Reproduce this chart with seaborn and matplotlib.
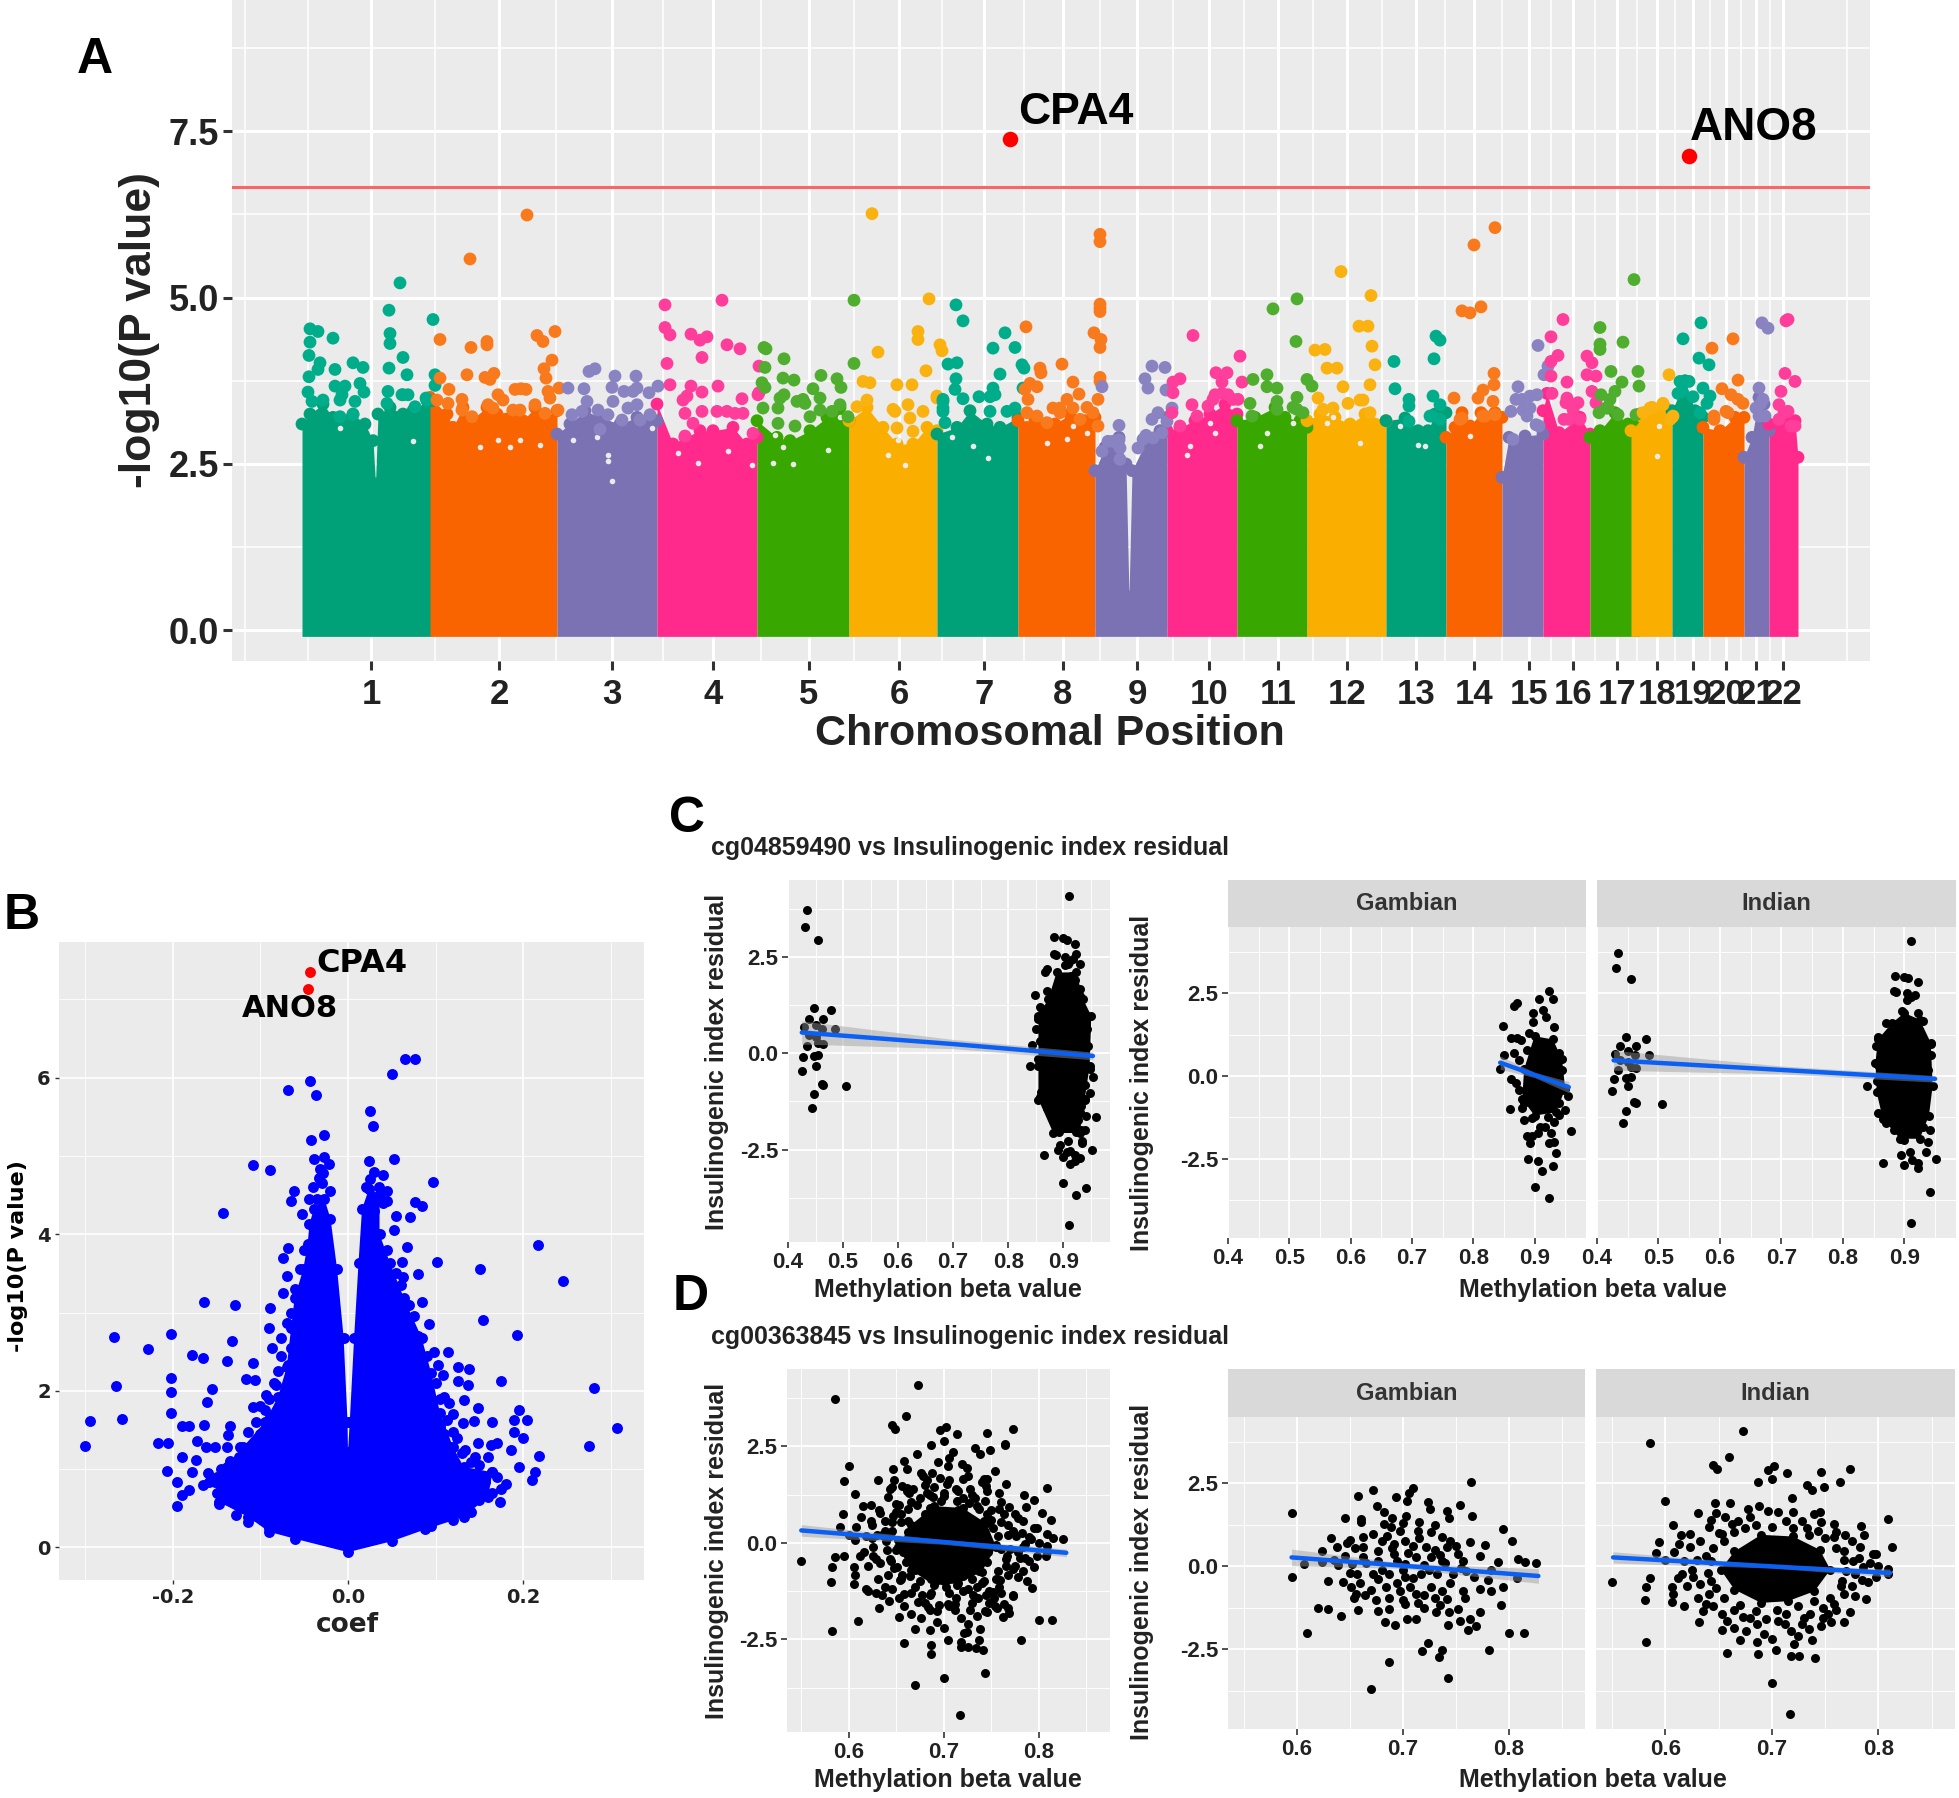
import pandas as pd
import seaborn as sns
from matplotlib import pyplot as plt

W, H = 1959, 1798

# ---- panel A: manhattan plot, position is in arbitrary genome units
chr_names = [str(i) for i in range(1, 23)]
chr_ticks = [71, 199, 312, 413, 509, 599, 684, 763, 837, 909, 978, 1047, 1116, 1174, 1229, 1273, 1317, 1357, 1393, 1426, 1456, 1483]
y_line = 6.66
hit_cpa4 = (710, 7.38)
hit_ano8 = (1389, 7.12)

chr1_top = [(2, 3.1), (10, 3.25), (23, 3.4), (33, 3.2), (47, 3.15), (53, 3.25), (65, 3.1), (73, 2.85), (75.5, 2.2), (78, 3.25), (90, 3.35), (103, 3.25), (113, 3.3), (127, 3.45), (132, 3.45)]
chr2_top = [(130, 3.5), (147, 3.25), (153, 3.05), (163, 3.35), (170, 3.15), (187, 3.35), (197, 3.25), (213, 3.3), (223, 3.15), (235, 3.35), (243, 3.2), (257, 3.3)]
chr3_top = [(257, 2.95), (270, 3.1), (285, 3.3), (300, 3.2), (320, 3.1), (337, 3.2), (357, 3.15)]
chr4_top = [(357, 3.4), (373, 2.8), (385, 2.9), (400, 3.0), (413, 3.0), (433, 3.05), (447, 2.8), (457, 2.9)]
chr5_top = [(457, 3.15), (477, 2.9), (490, 2.85), (510, 3.0), (527, 3.2), (540, 3.35), (549, 3.15)]
chr6_top = [(549, 3.15), (567, 3.35), (583, 3.05), (597, 2.8), (613, 2.8), (627, 3.05), (637, 3.0)]
chr7_top = [(637, 2.95), (657, 3.05), (670, 3.3), (687, 3.1), (700, 3.05), (718, 3.2)]
chr8_top = [(718, 3.15), (735, 3.15), (755, 3.1), (770, 3.25), (785, 3.15), (795, 3.2)]
chr9_top = [(795, 2.4), (805, 2.75), (819, 2.9), (826, 2.5), (829, 0.5), (832, 2.4), (845, 2.8), (860, 3.0), (867, 3.2)]
chr10_top = [(867, 3.0), (880, 3.05), (895, 3.15), (910, 3.25), (925, 3.4), (937, 3.25)]
chr11_top = [(937, 3.15), (955, 3.2), (975, 3.35), (985, 3.2), (1000, 3.15), (1007, 3.05)]
chr12_top = [(1007, 3.15), (1020, 3.25), (1035, 3.2), (1050, 3.1), (1065, 3.25), (1086, 3.15)]
chr13_top = [(1086, 3.15), (1105, 3.19), (1118, 3.0), (1128, 3.0), (1135, 3.25), (1146, 3.27)]
chr14_top = [(1146, 2.9), (1155, 3.05), (1162, 3.27), (1170, 3.07), (1181, 3.27), (1195, 3.27), (1202, 3.2)]
chr15_top = [(1202, 2.3), (1209, 2.9), (1225, 2.92), (1243, 2.95)]
chr16_top = [(1243, 3.3), (1247, 3.56), (1259, 2.97), (1280, 3.2), (1290, 2.95)]
chr17_top = [(1290, 2.9), (1300, 3.0), (1315, 3.27), (1328, 3.1), (1340, 3.25)]
chr18_top = [(1331, 3.0), (1343, 3.2), (1352, 3.35), (1365, 3.35), (1372, 3.2)]
chr19_top = [(1372, 3.3), (1385, 3.75), (1395, 3.3), (1403, 3.2)]
chr20_top = [(1403, 3.05), (1420, 3.0), (1435, 3.2), (1444, 3.2)]
chr21_top = [(1444, 2.6), (1452, 2.9), (1459, 3.5), (1464, 3.4), (1469, 3.0)]
chr22_top = [(1469, 3.1), (1485, 3.2), (1495, 3.15), (1498, 2.6)]

chr1_hits = [(10, 4.53), (18, 4.49), (10, 4.33), (33, 4.39), (9, 4.13), (20, 4.02), (18, 3.92), (9, 3.81), (35, 3.92), (53, 4.02), (63, 3.95), (35, 3.67), (45, 3.67), (60, 3.71), (64, 3.58), (8, 3.58), (42, 3.54),
             (100, 5.22), (89, 4.81), (133, 4.67), (90, 4.46), (90, 4.31), (103, 4.10), (89, 3.94), (107, 3.84), (135, 3.84), (88, 3.59), (102, 3.54), (135, 3.68), (126, 3.49),
             (12, 3.44), (23, 3.46), (40, 3.46), (55, 3.44), (40, 3.21), (53, 3.24), (103, 3.54), (108, 3.54), (127, 3.46), (115, 3.36), (87, 3.41)]
chr2_hits = [(170, 5.58), (227, 6.24), (140, 4.37), (171, 4.25), (187, 4.29), (187, 4.34), (237, 4.43), (243, 4.34), (255, 4.49), (252, 4.06), (244, 3.93), (246, 3.79), (167, 3.84), (140, 3.79), (185, 3.80), (194, 3.86), (190, 3.77), (149, 3.62), (215, 3.62), (221, 3.63), (226, 3.62), (198, 3.54), (248, 3.59), (259, 3.64), (162, 3.47),
             (137, 3.46), (148, 3.41), (162, 3.31), (172, 3.21), (188, 3.39), (203, 3.46), (193, 3.34), (213, 3.31), (220, 3.31), (235, 3.39), (245, 3.26), (258, 3.31), (250, 3.49)]
chr3_hits = [(268, 3.64), (284, 3.63), (289, 3.89), (295, 3.93), (315, 3.82), (336, 3.82), (312, 3.65), (324, 3.59), (337, 3.64), (349, 3.57), (358, 3.67),
             (313, 3.44), (328, 3.34), (337, 3.39), (350, 3.24), (287, 3.44), (282, 3.29), (298, 3.31), (308, 3.24), (322, 3.16), (272, 3.24), (300, 3.02), (340, 3.16), (333, 3.59)]
chr4_hits = [(365, 4.89), (365, 4.55), (370, 4.44), (391, 4.45), (400, 4.36), (407, 4.41), (422, 4.96), (427, 4.29), (440, 4.23), (402, 4.10), (367, 4.01), (370, 3.69), (391, 3.67), (402, 3.58), (418, 3.67), (459, 3.97), (459, 3.57), (387, 3.52), (442, 3.48),
             (402, 3.29), (417, 3.29), (427, 3.29), (435, 3.26), (443, 3.26), (385, 3.26), (393, 3.11), (383, 3.46), (458, 3.54), (453, 2.96), (385, 2.92)]
chr5_hits = [(464, 4.25), (466, 4.23), (465, 3.95), (484, 4.08), (483, 3.79), (494, 3.76), (521, 3.83), (537, 3.78), (541, 3.65), (513, 3.63), (554, 4.96), (554, 4.01), (462, 3.72), (465, 3.65), (484, 3.54), (503, 3.47), (520, 3.49),
             (463, 3.34), (478, 3.34), (480, 3.49), (497, 3.44), (505, 3.41), (520, 3.31), (510, 3.21), (495, 3.07), (478, 3.11), (540, 3.39), (548, 3.21), (532, 3.29)]
chr6_hits = [(572, 6.26), (629, 4.98), (618, 4.49), (618, 4.37), (578, 4.18), (640, 4.29), (642, 4.2), (626, 3.9), (563, 3.74), (570, 3.72), (597, 3.69), (612, 3.69), (637, 3.52), (593, 3.32), (608, 3.39), (623, 3.29), (610, 3.19),
             (557, 3.36), (567, 3.46), (595, 3.29), (597, 3.04), (613, 2.99), (637, 3.49)]
chr7_hits = [(656, 4.89), (663, 4.65), (705, 4.47), (715, 4.25), (693, 4.24), (648, 4.0), (657, 4.02), (656, 3.78), (700, 3.85), (722, 3.99), (724, 3.94), (643, 3.47), (643, 3.34), (655, 3.62), (663, 3.48), (679, 3.51), (693, 3.64), (695, 3.54), (707, 3.29), (715, 3.34), (723, 3.64), (645, 3.12),
             (690, 3.51), (690, 3.29), (643, 3.44), (643, 3.29)]
chr8_hits = [(800, 5.95), (800, 5.84), (800, 4.9), (800, 4.84), (800, 4.79), (726, 4.56), (794, 4.47), (801, 4.37), (800, 4.25), (762, 4.0), (740, 3.94), (741, 3.87), (800, 3.8), (773, 3.73), (730, 3.71), (737, 3.66), (800, 3.74), (725, 3.62), (779, 3.55), (767, 3.47), (798, 3.47), (753, 3.34), (787, 3.35), (728, 3.47), (760, 3.27),
             (727, 3.27), (737, 3.22), (747, 3.12), (760, 3.34), (773, 3.34), (780, 3.17), (793, 3.27), (798, 3.07)]
chr9_hits = [(802, 3.66), (819, 3.08), (808, 2.84), (819, 2.86), (802, 2.69), (820, 2.74), (838, 2.74), (846, 2.93), (852, 3.17), (858, 3.27), (852, 3.97), (865, 3.95), (845, 3.78), (848, 3.64), (866, 3.61), (872, 3.34), (867, 3.14),
             (813, 2.84), (820, 2.57), (843, 2.87), (853, 2.89), (862, 2.97)]
chr10_hits = [(893, 4.43), (940, 4.12), (880, 3.78), (873, 3.73), (873, 3.57), (916, 3.87), (927, 3.87), (922, 3.73), (942, 3.73), (892, 3.39), (915, 3.54), (928, 3.54), (938, 3.47), (908, 3.37), (897, 3.22),
              (872, 3.27), (880, 3.07), (913, 3.47), (922, 3.56), (933, 3.47)]
chr11_hits = [(997, 4.98), (973, 4.83), (996, 4.34), (953, 3.77), (967, 3.84), (1007, 3.77), (1012, 3.67), (967, 3.66), (977, 3.64), (950, 3.41), (997, 3.5), (993, 3.35), (977, 3.44),
              (952, 3.22), (977, 3.32), (997, 3.32), (1003, 3.27)]
chr12_hits = [(1041, 5.39), (1071, 5.03), (1059, 4.57), (1068, 4.57), (1072, 4.27), (1015, 4.21), (1025, 4.22), (1027, 3.94), (1037, 3.94), (1075, 3.99), (1043, 3.66), (1070, 3.69), (1018, 3.49), (1048, 3.41), (1063, 3.46),
              (1023, 3.32), (1033, 3.34), (1060, 3.46), (1070, 3.27)]
chr13_hits = [(1094, 4.04), (1095, 3.63), (1109, 3.47), (1109, 3.37), (1136, 4.42), (1140, 4.36), (1134, 4.08), (1133, 3.52), (1140, 3.39), (1130, 3.22), (1109, 3.14), (1132, 3.22), (1140, 3.17)]
chr14_hits = [(1195, 6.05), (1174, 5.79), (1162, 4.80), (1170, 4.77), (1181, 4.86), (1194, 3.86), (1194, 3.69), (1183, 3.61), (1154, 3.49), (1178, 3.49), (1193, 3.44), (1162, 3.19), (1185, 3.22), (1160, 3.17), (1183, 3.22), (1195, 3.24)]
chr15_hits = [(1218, 3.66), (1238, 4.28), (1244, 3.84), (1248, 3.97), (1211, 3.29), (1222, 3.47), (1230, 3.52), (1237, 3.54), (1227, 3.22), (1236, 3.09), (1216, 3.47), (1230, 3.34), (1223, 3.31), (1239, 3.07), (1213, 2.87)]
chr16_hits = [(1263, 4.67), (1251, 4.41), (1258, 4.13), (1251, 4.04), (1251, 3.82), (1267, 3.73), (1287, 4.12), (1292, 4.02), (1287, 3.84), (1296, 3.82), (1292, 3.59), (1267, 3.49), (1296, 3.42), (1278, 3.42), (1264, 3.17), (1266, 3.42), (1273, 3.32), (1280, 3.17), (1269, 3.17), (1252, 3.56)]
chr17_hits = [(1300, 4.55), (1334, 5.27), (1300, 4.3), (1300, 4.22), (1323, 4.33), (1311, 3.89), (1338, 3.89), (1339, 3.67), (1322, 3.73), (1315, 3.59), (1301, 3.54), (1310, 3.47), (1299, 3.27), (1306, 3.34), (1308, 3.34), (1318, 3.24), (1336, 3.24)]
chr18_hits = [(1369, 3.84), (1363, 3.39), (1352, 3.34), (1343, 3.27), (1370, 3.17), (1350, 3.34), (1363, 3.41), (1373, 3.22)]
chr19_hits = [(1401, 4.62), (1383, 4.38), (1399, 4.09), (1409, 3.99), (1380, 3.74), (1389, 3.74), (1403, 3.64), (1410, 3.52), (1382, 3.59), (1378, 3.56), (1393, 3.51), (1407, 3.41), (1400, 3.27)]
chr20_hits = [(1412, 4.24), (1433, 4.38), (1438, 3.76), (1422, 3.63), (1438, 3.47), (1426, 3.29), (1414, 3.22), (1431, 3.54), (1414, 3.17), (1428, 3.27), (1443, 3.41)]
chr21_hits = [(1462, 4.62), (1468, 4.54), (1459, 3.64), (1463, 3.47), (1459, 3.22), (1456, 3.34), (1461, 3.41), (1465, 3.22)]
chr22_hits = [(1486, 4.65), (1488, 4.67), (1485, 3.86), (1495, 3.74), (1481, 3.59), (1479, 3.39), (1488, 3.29), (1491, 3.07), (1479, 3.17), (1495, 3.07), (1484, 3.27)]

# small holes left between the dots inside the dense part
mass_holes = [(40, 3.04), (113, 2.84), (180, 2.76), (198, 2.86), (220, 2.86), (210, 2.76), (240, 2.79), (308, 2.54), (308, 2.64), (273, 2.86), (297, 2.91), (352, 3.04), (312, 2.24),
              (378, 2.66), (398, 2.51), (428, 2.69), (452, 2.49), (473, 2.51), (483, 2.76), (493, 2.5), (528, 2.71), (475, 2.94), (540, 3.2), (588, 2.64), (598, 2.86), (605, 2.49),
              (673, 2.77), (688, 2.59), (652, 2.91), (767, 2.87), (747, 2.82), (787, 2.97), (773, 3.07), (890, 2.77), (915, 2.97), (910, 3.12), (887, 2.64), (960, 2.77), (967, 2.97),
              (993, 3.11), (1027, 3.12), (1060, 2.82), (1033, 3.2), (1118, 2.79), (1125, 2.77), (1100, 3.07), (1170, 2.92), (1359, 3.07), (1357, 2.62)]

chr_tops = [chr1_top, chr2_top, chr3_top, chr4_top, chr5_top, chr6_top, chr7_top, chr8_top, chr9_top, chr10_top, chr11_top,
            chr12_top, chr13_top, chr14_top, chr15_top, chr16_top, chr17_top, chr18_top, chr19_top, chr20_top, chr21_top, chr22_top]
chr_hits = [chr1_hits, chr2_hits, chr3_hits, chr4_hits, chr5_hits, chr6_hits, chr7_hits, chr8_hits, chr9_hits, chr10_hits, chr11_hits,
            chr12_hits, chr13_hits, chr14_hits, chr15_hits, chr16_hits, chr17_hits, chr18_hits, chr19_hits, chr20_hits, chr21_hits, chr22_hits]

mass_colors = ['#00A078', '#FA6400', '#7B72B4', '#FF2A8C', '#38A800', '#F9AE00']
dot_colors = ['#00AD8B', '#F97A1D', '#8A83C2', '#FF3D9B', '#4FAE2E', '#F9B20F']

# ---- panel B: volcano plot
volcano_edge = [(0, -0.06), (-0.06, 0.11), (-0.09, 0.2), (-0.114, 0.39), (-0.147, 0.58), (-0.152, 0.84), (-0.138, 1.03), (-0.12, 1.28), (-0.095, 1.6), (-0.08, 1.92),
                (-0.07, 2.3), (-0.065, 2.8), (-0.061, 3.18), (-0.051, 3.56), (-0.046, 3.88), (-0.044, 4.13), (-0.039, 4.32), (-0.027, 4.45), (-0.02, 4.2), (-0.0125, 3.56),
                (-0.005, 2.68), (-0.0005, 1.6), (0, 1.22), (0.002, 1.6), (0.007, 2.68), (0.012, 3.63), (0.016, 4.32), (0.024, 4.58), (0.036, 4.51), (0.036, 4.0), (0.048, 3.63),
                (0.064, 3.18), (0.084, 2.68), (0.095, 2.23), (0.105, 1.72), (0.12, 1.28), (0.132, 1.03), (0.165, 0.96), (0.16, 0.65), (0.132, 0.39), (0.088, 0.23), (0.05, 0.08)]
volcano_pts = [(0.076, 6.24), (0.065, 6.23), (0.05, 6.04), (-0.043, 5.95), (-0.068, 5.84), (-0.036, 5.78), (0.025, 5.57), (0.028, 5.38), (-0.027, 5.26), (-0.042, 5.2), (0.052, 4.96), (0.024, 4.93),
               (-0.108, 4.88), (-0.089, 4.82), (-0.027, 4.99), (-0.039, 4.96), (-0.032, 4.83), (0.097, 4.66), (-0.062, 4.55), (0.04, 4.75), (-0.065, 4.42), (-0.053, 4.26), (-0.143, 4.27), (0.076, 4.41),
               (0.084, 4.36), (0.071, 4.22), (0.045, 4.42), (0.055, 4.23), (0.052, 4.05), (0.067, 3.84), (0.102, 3.65), (0.217, 3.86), (0.246, 3.4), (0.151, 3.55), (0.062, 3.65), (0.08, 3.49), (0.063, 3.45),
               (-0.068, 3.82), (-0.074, 3.7), (-0.07, 3.47), (-0.074, 3.25), (-0.089, 3.06), (-0.129, 3.09), (-0.164, 3.13), (0.085, 3.13), (0.154, 2.9), (0.093, 2.85), (-0.09, 2.8), (-0.202, 2.73), (-0.267, 2.69),
               (-0.133, 2.64), (0.193, 2.71), (-0.228, 2.53), (-0.087, 2.55), (-0.178, 2.46), (-0.166, 2.42), (-0.138, 2.38), (-0.109, 2.35), (0.098, 2.5), (0.114, 2.5), (0.126, 2.31), (0.138, 2.28), (-0.202, 2.16),
               (-0.265, 2.06), (-0.202, 1.98), (-0.155, 2.02), (-0.116, 2.15), (-0.106, 2.14), (0.175, 2.13), (0.281, 2.04), (-0.161, 1.86), (-0.202, 1.72), (-0.295, 1.62), (-0.258, 1.64), (-0.19, 1.55), (-0.182, 1.55),
               (-0.164, 1.56), (-0.135, 1.55), (0.307, 1.53), (-0.3, 1.29), (0.275, 1.3), (-0.217, 1.33), (-0.205, 1.34), (-0.172, 1.36), (-0.207, 0.98), (-0.19, 1.15), (-0.137, 1.43), (-0.114, 1.47), (-0.109, 1.79),
               (-0.095, 1.76), (0.195, 1.76), (0.204, 1.63), (0.19, 1.63), (0.19, 1.48), (0.2, 1.4), (0.218, 1.17), (0.186, 1.25), (0.195, 1.03), (0.214, 0.96), (0.21, 0.86), (0.18, 0.81), (0.174, 0.58), (0.165, 1.6),
               (0.148, 1.78), (0.144, 1.61), (0.131, 1.59), (0.132, 1.88), (0.126, 2.12), (0.137, 2.07), (0.108, 2.2), (0.103, 2.33), (0.11, 1.92), (0.093, 1.76), (0.113, 1.63), (0.17, 1.34), (0.163, 1.31), (0.148, 1.34),
               (0.134, 1.25), (0.12, 1.47), (0.117, 1.28), (0.141, 1.09), (0.165, 0.96), (0.156, 0.84), (-0.195, 0.53), (-0.19, 0.67), (-0.195, 0.84), (-0.181, 0.74), (-0.174, 1.12), (-0.162, 1.28), (-0.152, 1.28),
               (-0.159, 0.84), (-0.178, 0.96), (-0.147, 0.55), (-0.138, 1.28), (-0.123, 1.28), (-0.114, 0.33), (-0.128, 0.42), (-0.109, 1.09), (-0.104, 1.31), (-0.089, 1.66), (-0.082, 2.07), (-0.094, 1.95), (-0.068, 2.33),
               (-0.07, 2.87), (-0.076, 2.68),
               (-0.1, 1.8), (-0.105, 1.6), (-0.1, 1.45), (-0.09, 1.9), (-0.085, 2.1), (-0.08, 2.25), (-0.076, 2.45), (-0.095, 1.3), (-0.115, 1.15), (-0.125, 1.15), (-0.135, 1.1), (-0.145, 1.0), (-0.15, 0.9), (-0.16, 0.95),
               (-0.165, 0.8), (-0.15, 0.7), (-0.13, 0.65), (-0.12, 0.5), (-0.105, 0.4), (-0.09, 0.25), (0.1, 2.1), (0.105, 1.9), (0.115, 1.85), (0.12, 1.7), (0.105, 1.55), (0.11, 1.45), (0.125, 1.4), (0.13, 1.2), (0.145, 1.15),
               (0.15, 1.05), (0.16, 1.15), (0.17, 0.9), (0.175, 0.75), (0.165, 0.7), (0.15, 0.6), (0.14, 0.45), (0.12, 0.35), (0.095, 0.27), (0.09, 2.45), (0.08, 2.7), (0.075, 2.95), (0.07, 3.1), (0.06, 3.35), (0.055, 3.5),
               (0.045, 3.8), (-0.04, 4.6), (-0.03, 4.65), (-0.02, 4.55), (-0.035, 4.45), (-0.045, 4.45), (-0.028, 4.78), (-0.033, 4.72), (-0.022, 4.9), (0.025, 4.7), (0.035, 4.6), (0.045, 4.55), (0.03, 4.8), (0.02, 4.6),
               (0.04, 4.4), (0.03, 4.3), (-0.06, 3.3), (-0.065, 3.0), (-0.065, 2.55), (-0.055, 3.55), (-0.05, 3.8)]
volcano_cpa4 = (-0.043, 7.35)
volcano_ano8 = (-0.046, 7.13)

# ---- panel C: cg04859490
c_gambian_pts = [(0.848, 1.52), (0.871, 2.2), (0.867, 2.1), (0.908, 2.33), (0.923, 2.57), (0.93, 2.33), (0.897, 1.9), (0.914, 2.0), (0.918, 1.79), (0.931, 1.49), (0.897, 1.64), (0.871, 1.14), (0.867, 0.69), (0.844, 0.21),
                 (0.85, 0.64), (0.861, -0.1), (0.86, -1.0), (0.94, 0.69), (0.945, 0.18), (0.954, -0.62), (0.96, -1.66), (0.949, -1.03), (0.887, -1.81), (0.893, -2.04), (0.89, -2.5), (0.906, -2.56), (0.93, -2.72),
                 (0.913, -2.87), (0.935, -2.34), (0.9, -3.37), (0.923, -3.69), (0.923, -2.04), (0.932, -1.99), (0.906, -1.73), (0.927, -1.73), (0.932, -1.38), (0.883, -1.33), (0.879, -0.98), (0.874, -0.42), (0.94, -0.83),
                 (0.878, 1.09), (0.891, 1.29), (0.887, 0.79), (0.861, 1.14), (0.874, 0.48), (0.87, -0.22), (0.883, -0.83), (0.896, -1.28), (0.909, -1.53), (0.922, -1.23), (0.94, -1.18), (0.948, -0.42), (0.896, -1.83), (0.917, -1.53)]
c_gambian_core = [(0.9, 1.2), (0.93, 1.1), (0.945, 0.5), (0.95, -0.4), (0.935, -1.1), (0.9, -1.2), (0.88, -0.7), (0.883, 0.2)]
c_indian_pts = [(0.434, 3.72), (0.431, 3.27), (0.455, 2.94), (0.447, 1.17), (0.479, 1.12), (0.438, 0.89), (0.464, 0.89), (0.429, 0.67), (0.451, 0.74), (0.462, 0.64), (0.485, 0.64), (0.434, 0.18), (0.464, 0.23), (0.427, -0.1),
                (0.447, -0.07), (0.455, -0.04), (0.451, -0.32), (0.425, -0.47), (0.461, -0.8), (0.464, -0.83), (0.505, -0.85), (0.447, -1.05), (0.443, -1.41), (0.438, 0.48), (0.451, 0.43), (0.455, 0.28),
                (0.911, 4.09), (0.884, 3.03), (0.9, 3.0), (0.906, 2.95), (0.922, 2.83), (0.887, 2.55), (0.883, 2.58), (0.904, 2.5), (0.917, 2.45), (0.904, 2.3), (0.911, 2.38), (0.87, 1.61), (0.93, 1.67), (0.854, 0.89),
                (0.857, 1.19), (0.943, 0.97), (0.857, 0.33), (0.84, -0.32), (0.855, -0.15), (0.943, 0.64), (0.939, 0.18), (0.857, -1.13), (0.865, -1.18), (0.866, -2.64), (0.952, -2.51), (0.941, -3.5), (0.911, -4.46),
                (0.941, -1.63), (0.939, -1.99), (0.935, -2.29), (0.922, -2.64), (0.9, -2.69), (0.894, -2.39), (0.909, -2.29), (0.922, -2.79), (0.913, -2.54), (0.9, -1.94), (0.883, -1.63), (0.93, -1.53), (0.87, -1.43),
                (0.896, 1.95), (0.922, 1.9)]
c_indian_core = [(0.857, 1.1), (0.88, 1.6), (0.9, 1.9), (0.925, 1.7), (0.943, 1.0), (0.946, -0.3), (0.94, -1.2), (0.925, -1.9), (0.893, -1.9), (0.865, -1.3), (0.855, -0.5), (0.853, 0.4)]
c_all_core = [(0.888, 2.1), (0.924, 2.1), (0.936, 1.41), (0.951, 0.97), (0.948, -0.33), (0.939, -1.2), (0.93, -2.07), (0.882, -2.07), (0.855, -1.2), (0.855, -0.33), (0.855, 0.97), (0.873, 1.41)]

# fit lines: x, fit, half width of the grey band
c_all_fit = ([0.425, 0.7, 0.954], [0.54, 0.24, -0.07], [0.3, 0.12, 0.1])
c_gambian_fit = ([0.844, 0.9, 0.956], [0.4, 0.03, -0.34], [0.2, 0.08, 0.17])
c_indian_fit = ([0.427, 0.7, 0.95], [0.47, 0.18, -0.09], [0.3, 0.12, 0.1])

# ---- panel D: cg00363845
d_gambian_pts = [(0.595, 1.6), (0.595, -0.33), (0.607, 0.07), (0.61, -2.02), (0.62, -1.24), (0.629, -1.29), (0.629, -0.43), (0.632, 0.85), (0.624, 0.47), (0.624, 0.12), (0.638, 0.57), (0.642, -1.51), (0.645, 1.45), (0.647, 0.69),
                 (0.639, 0.05), (0.644, -0.48), (0.651, -0.63), (0.654, -0.96), (0.658, 2.13), (0.661, 1.43), (0.661, 1.33), (0.658, -1.32), (0.672, 2.31), (0.676, 1.81), (0.682, 1.63), (0.677, -1.34), (0.687, -1.29),
                 (0.683, -1.67), (0.693, -1.77), (0.694, 2.08), (0.706, 2.2), (0.71, 2.35), (0.704, 1.98), (0.703, 1.53), (0.724, 1.93), (0.726, 1.73), (0.742, 1.66), (0.744, 1.46), (0.754, 1.86), (0.764, 2.55), (0.765, 1.53),
                 (0.763, 0.74), (0.778, 0.64), (0.795, 1.12), (0.803, 0.76), (0.809, 0.22), (0.815, 0.12), (0.826, 0.09), (0.79, 0.14), (0.773, 0.3), (0.783, -0.11), (0.808, -0.35), (0.773, -0.68), (0.783, -0.73), (0.795, -0.63),
                 (0.793, -1.17), (0.8, -2.01), (0.814, -2.01), (0.781, -2.51), (0.743, -3.37), (0.67, -3.69), (0.687, -2.87), (0.718, -2.56), (0.724, -2.31), (0.737, -2.53), (0.734, -2.73), (0.743, -1.76), (0.754, -1.64),
                 (0.763, -1.59), (0.762, -1.92), (0.769, -1.81), (0.773, -1.39), (0.731, -1.36), (0.744, -1.36), (0.752, -1.27), (0.704, -1.59), (0.712, -1.59), (0.757, -0.73), (0.759, -0.96), (0.742, -0.99), (0.767, -0.33),
                 (0.702, -1.14), (0.714, -1.09), (0.687, -0.94), (0.697, -0.73), (0.664, -0.87), (0.656, -0.84), (0.677, -0.38), (0.684, -0.63), (0.707, -0.63), (0.727, -0.63), (0.737, -0.73), (0.712, -0.84),
                 (0.662, 0.88), (0.672, 0.98), (0.682, 1.28), (0.689, 1.18), (0.697, 1.08), (0.702, 0.77), (0.714, 1.08), (0.727, 1.03), (0.737, 0.88), (0.742, 0.57), (0.722, 0.57), (0.712, 0.27), (0.727, 0.27), (0.737, 0.17),
                 (0.752, 0.37), (0.757, 0.17), (0.747, -0.23), (0.732, -0.23), (0.717, -0.23), (0.702, -0.33), (0.687, -0.23), (0.672, -0.23), (0.657, -0.23), (0.652, 0.07), (0.662, 0.27), (0.677, 0.17), (0.692, 0.37),
                 (0.702, 0.07), (0.662, 0.57), (0.677, 0.47), (0.692, 0.67),
                 (0.635, 0.2), (0.645, 0.3), (0.65, -0.2), (0.66, -0.5), (0.67, -0.7), (0.675, -1.0), (0.68, 0.75), (0.685, 0.9), (0.69, 0.55), (0.695, 0.15), (0.7, -0.1), (0.705, 0.4), (0.71, 0.6), (0.715, 0.85), (0.72, 0.05),
                 (0.725, -0.1), (0.73, 0.5), (0.735, 0.35), (0.74, 0.1), (0.745, 0.75), (0.75, 0.6), (0.755, -0.05), (0.76, -0.15), (0.745, -0.5), (0.73, -0.95), (0.72, -0.85), (0.71, -0.35), (0.695, -0.5), (0.68, -0.1),
                 (0.665, 0.1), (0.655, 0.55), (0.65, 0.8), (0.69, 1.45), (0.7, 1.3), (0.715, 1.35), (0.73, 1.25), (0.72, -1.25), (0.735, -1.15), (0.7, -1.0), (0.78, -0.4)]
d_indian_pts = [(0.55, -0.48), (0.586, 3.72), (0.673, 4.09), (0.66, 3.28), (0.645, 3.04), (0.649, 2.94), (0.696, 2.91), (0.702, 3.01), (0.714, 2.81), (0.746, 2.84), (0.773, 2.94), (0.687, 2.53), (0.7, 2.64), (0.733, 2.45),
                (0.738, 2.3), (0.749, 2.4), (0.764, 2.53), (0.719, 2.05), (0.6, 1.98), (0.647, 1.91), (0.661, 1.91), (0.631, 1.62), (0.648, 1.62), (0.607, 1.26), (0.594, 0.74), (0.591, 0.4), (0.586, -0.36), (0.582, -0.63),
                (0.581, -1.02), (0.582, -2.29), (0.606, -0.63), (0.607, -0.84), (0.606, -1.06), (0.618, -1.19), (0.635, -1.34), (0.632, -1.69), (0.658, -2.6), (0.653, -1.92), (0.67, -2.22), (0.686, -2.27), (0.687, -2.65),
                (0.704, -2.52), (0.721, -2.34), (0.718, -2.7), (0.726, -2.7), (0.741, -2.77), (0.738, -2.22), (0.7, -3.5), (0.717, -4.46), (0.746, -1.79), (0.756, -1.69), (0.768, -1.69), (0.773, -1.36), (0.788, -0.99),
                (0.778, -0.89), (0.79, -0.48), (0.798, -0.33), (0.809, -0.08), (0.809, -0.23), (0.813, 0.59), (0.809, 1.42), (0.795, 0.37), (0.798, 0.37), (0.784, 1.23), (0.787, 0.93), (0.783, 0.57), (0.769, 0.93), (0.758, 1.28),
                (0.746, 1.33), (0.74, 1.58), (0.706, 1.63), (0.688, 1.81), (0.678, 1.73),
                (0.613, 0.67), (0.623, 0.57), (0.608, 0.42), (0.618, 0.17), (0.616, -0.23), (0.626, -0.33), (0.633, -0.53), (0.641, -0.84), (0.631, -0.94), (0.623, 0.98), (0.633, 0.77), (0.641, 1.18), (0.656, 1.48), (0.663, 1.28),
                (0.643, 0.17), (0.653, -1.44), (0.658, -1.64), (0.673, -1.54), (0.686, -1.74), (0.676, -1.94), (0.693, -2.04), (0.706, -1.64), (0.718, -1.94), (0.728, -1.74), (0.736, -1.44), (0.748, -1.24), (0.758, -1.14),
                (0.768, -0.84), (0.766, -0.43), (0.778, -0.23), (0.776, 0.17), (0.768, 0.47), (0.758, 0.88), (0.743, 1.08), (0.728, 1.38), (0.713, 1.38), (0.696, 1.68), (0.668, 1.38), (0.653, 0.98), (0.786, -0.03), (0.753, -1.44),
                (0.713, -1.44), (0.643, -0.43), (0.638, -1.14),
                (0.655, 0.75), (0.665, 1.05), (0.675, 1.15), (0.685, 1.25), (0.7, 1.2), (0.72, 1.15), (0.735, 0.95), (0.75, 0.85), (0.76, 0.55), (0.768, 0.2), (0.77, -0.15), (0.765, -0.6), (0.755, -0.95), (0.74, -1.05), (0.725, -1.2),
                (0.705, -1.3), (0.685, -1.35), (0.67, -1.15), (0.655, -0.95), (0.648, -0.65), (0.64, -0.2), (0.638, 0.3), (0.645, 0.55), (0.63, 0.2), (0.625, -0.1), (0.65, 1.0), (0.643, 1.4), (0.68, 1.5), (0.72, 1.65), (0.733, 1.15),
                (0.76, 1.05), (0.745, 1.65), (0.775, 0.75), (0.782, 0.25), (0.792, 0.1), (0.8, 0.0), (0.775, -0.6), (0.785, -0.4), (0.76, -1.3), (0.748, -1.55), (0.73, -1.55), (0.712, -1.75), (0.695, -1.6), (0.68, -1.55),
                (0.665, -1.3), (0.645, -1.2), (0.665, -1.85), (0.725, -2.1), (0.735, -1.9), (0.7, -2.2), (0.62, -0.6), (0.612, -0.35), (0.6, 0.2), (0.615, 0.95)]
d_indian_core = [(0.665, 0.45), (0.69, 0.95), (0.72, 0.9), (0.745, 0.5), (0.755, -0.1), (0.74, -0.75), (0.715, -1.05), (0.69, -1.1), (0.665, -0.7), (0.652, -0.1)]
d_all_fit = ([0.55, 0.7, 0.829], [0.32, 0.02, -0.26], [0.15, 0.06, 0.1])
d_gambian_fit = ([0.595, 0.7, 0.828], [0.27, 0.02, -0.29], [0.25, 0.08, 0.22])
d_indian_fit = ([0.551, 0.7, 0.811], [0.27, 0.0, -0.2], [0.17, 0.05, 0.12])

sns.set_theme(style='darkgrid', rc={'axes.facecolor': '#EBEBEB', 'grid.color': 'white'})
plt.rcParams['font.family'] = ['Liberation Sans', 'DejaVu Sans']
plt.rcParams['font.weight'] = 'bold'

fig = plt.figure(figsize=(W / 100, H / 100), dpi=100)


def px_axes(left, top, right, bottom):
    return fig.add_axes([left / W, 1 - bottom / H, (right - left) / W, (bottom - top) / H])


def put(x, y, s, size, **kw):
    kw.setdefault('color', 'black')
    fig.text(x / W, 1 - y / H, s, fontsize=size, fontweight='bold', ha='center', va='center', **kw)


def gg_style(ax, xlim, ylim, xmaj, ymaj, xmin, ymin, size, lw=1.3, ticklen=4, tickw=1.2):
    ax.set_xlim(*xlim)
    ax.set_ylim(*ylim)
    ax.set_xticks(xmaj)
    ax.set_yticks(ymaj)
    ax.set_xticks(xmin, minor=True)
    ax.set_yticks(ymin, minor=True)
    ax.grid(which='major', color='white', lw=lw)
    ax.grid(which='minor', color='white', lw=lw * 0.5)
    ax.set_axisbelow(True)
    ax.tick_params(which='major', length=ticklen, width=tickw, color='#333333', labelsize=size, labelcolor='#222222', bottom=True, left=True, pad=3)
    ax.tick_params(which='minor', length=0)
    ax.set_xlabel('')
    ax.set_ylabel('')
    for sp in ax.spines.values():
        sp.set_visible(False)


# ---- A
ax = px_axes(232, 0, 1870, 661)
minor_a = [(a + b) / 2 for a, b in zip(chr_ticks, chr_ticks[1:])] + [8, -55, 1547]
gg_style(ax, (-68, 1570), (-0.46, 9.47), chr_ticks, [0, 2.5, 5, 7.5], minor_a, [1.25, 3.75, 6.25, 8.75], 25, lw=2.2, ticklen=6.5, tickw=2.2)
ax.set_xticklabels(chr_names)
ax.set_yticklabels(['0.0', '2.5', '5.0', '7.5'], fontsize=26)
ax.tick_params(axis='x', pad=6)

rows = []
for i, top in enumerate(chr_tops):
    xs = [p[0] for p in top]
    ys = [p[1] for p in top]
    ax.fill_between(xs, -0.09, ys, color=mass_colors[i % 6], lw=0, zorder=2)
    for p in top:
        rows.append({'pos': p[0], 'val': p[1], 'chr': chr_names[i]})
edge_df = pd.DataFrame(rows)
palette = {chr_names[i]: mass_colors[i % 6] for i in range(22)}
sns.scatterplot(data=edge_df, x='pos', y='val', hue='chr', palette=palette, s=85, linewidth=0, legend=False, ax=ax, zorder=2.5)

holes_df = pd.DataFrame(mass_holes, columns=['pos', 'val'])
sns.scatterplot(data=holes_df, x='pos', y='val', color='#EBEBEB', s=16, linewidth=0, ax=ax, zorder=2.7)

rows = []
for i, hits in enumerate(chr_hits):
    for p in hits:
        rows.append({'pos': p[0], 'val': p[1], 'chr': chr_names[i]})
hits_df = pd.DataFrame(rows)
palette = {chr_names[i]: dot_colors[i % 6] for i in range(22)}
sns.scatterplot(data=hits_df, x='pos', y='val', hue='chr', palette=palette, s=85, linewidth=0, legend=False, ax=ax, zorder=3)
ax.axhline(y_line, color='#F8666A', lw=2.2, zorder=4)
ax.scatter(*hit_cpa4, s=125, color='#FF0000', lw=0, zorder=5)
ax.scatter(*hit_ano8, s=125, color='#FF0000', lw=0, zorder=5)
ax.set_xlabel('')
ax.set_ylabel('')
put(1076, 113, 'CPA4', 32)
put(1754, 128, 'ANO8', 33)
put(140, 330, '-log10(P value)', 32, rotation=90, color='#222222')
put(1050, 734, 'Chromosomal Position', 31, color='#222222')

# ---- B
ax = px_axes(59, 942, 644, 1580)
gg_style(ax, (-0.33, 0.338), (-0.415, 7.73), [-0.2, 0, 0.2], [0, 2, 4, 6], [-0.3, -0.1, 0.1, 0.3], [1, 3, 5, 7], 14, lw=1.2, ticklen=3, tickw=1)
ax.set_xticklabels(['-0.2', '0.0', '0.2'], family='DejaVu Sans')
ax.set_yticklabels(['0', '2', '4', '6'], family='DejaVu Sans')
ax.fill([p[0] for p in volcano_edge], [p[1] for p in volcano_edge], color='#0000FF', lw=0, zorder=2)
volcano_df = pd.DataFrame(volcano_pts + volcano_edge, columns=['coef', 'logp'])
sns.scatterplot(data=volcano_df, x='coef', y='logp', color='#0000FF', s=62, linewidth=0, ax=ax, zorder=3)
ax.scatter(*volcano_cpa4, s=62, color='#FF0000', lw=0, zorder=4)
ax.scatter(*volcano_ano8, s=62, color='#FF0000', lw=0, zorder=4)
ax.set_xlabel('')
ax.set_ylabel('')
put(362, 963, 'CPA4', 23, family='DejaVu Sans')
put(290, 1008, 'ANO8', 22, family='DejaVu Sans')
put(18, 1256, '-log10(P value)', 16, rotation=90, family='DejaVu Sans')
put(347, 1625, 'coef', 19, family='DejaVu Sans', color='#222222')


def scatter_panel(ax, pts, cores, fit, xlim, xmaj, xmin, show_y):
    gg_style(ax, xlim, (-4.9, 4.5), xmaj, [-2.5, 0, 2.5], xmin, [-3.75, -1.25, 1.25, 3.75], 16)
    ax.set_xticklabels([f'{v:.1f}' for v in xmaj])
    ax.set_yticklabels(['-2.5', '0.0', '2.5'])
    if not show_y:
        ax.tick_params(axis='y', left=False, labelleft=False)
    all_pts = list(pts)
    for core in cores:
        ax.fill([p[0] for p in core], [p[1] for p in core], color='black', lw=0, zorder=2)
        all_pts += core
    df = pd.DataFrame(all_pts, columns=['beta', 'resid'])
    sns.scatterplot(data=df, x='beta', y='resid', color='black', s=42, linewidth=0, ax=ax, zorder=3)
    fit_x, fit_y, fit_w = fit
    low = [a - b for a, b in zip(fit_y, fit_w)]
    high = [a + b for a, b in zip(fit_y, fit_w)]
    ax.fill_between(fit_x, low, high, color='#999999', alpha=0.45, lw=0, zorder=4)
    sns.lineplot(x=fit_x, y=fit_y, color='#0A60F5', lw=3.2, ax=ax, zorder=5, errorbar=None)
    ax.set_xlabel('')
    ax.set_ylabel('')


def strip(left, top, right, bottom, name):
    st = px_axes(left, top, right, bottom)
    st.set_facecolor('#D9D9D9')
    st.set_xticks([])
    st.set_yticks([])
    st.grid(False)
    for sp in st.spines.values():
        sp.set_visible(False)
    st.text(0.5, 0.5, name, transform=st.transAxes, ha='center', va='center', fontsize=17, fontweight='bold', color='#333333')


# ---- C
c_ticks = [0.4, 0.5, 0.6, 0.7, 0.8, 0.9]
c_minor = [0.45, 0.55, 0.65, 0.75, 0.85, 0.95]
ax = px_axes(788, 880, 1110, 1242)
scatter_panel(ax, c_gambian_pts + c_indian_pts, [c_all_core], c_all_fit, (0.4, 0.985), c_ticks, c_minor, True)
ax = px_axes(1228, 927, 1586, 1238)
scatter_panel(ax, c_gambian_pts, [c_gambian_core], c_gambian_fit, (0.4, 0.984), c_ticks, c_minor, True)
ax = px_axes(1597, 927, 1956, 1238)
scatter_panel(ax, c_indian_pts, [c_indian_core], c_indian_fit, (0.4, 0.984), c_ticks, c_minor, False)
strip(1228, 880, 1586, 927, 'Gambian')
strip(1597, 880, 1956, 927, 'Indian')

# ---- D
d_ticks = [0.6, 0.7, 0.8]
d_minor = [0.55, 0.65, 0.75, 0.85]
ax = px_axes(787, 1369, 1110, 1732)
scatter_panel(ax, d_gambian_pts + d_indian_pts, [d_indian_core], d_all_fit, (0.535, 0.875), d_ticks, d_minor, True)
ax = px_axes(1228, 1417, 1585, 1729)
scatter_panel(ax, d_gambian_pts, [], d_gambian_fit, (0.535, 0.872), d_ticks, d_minor, True)
ax = px_axes(1596, 1417, 1955, 1729)
scatter_panel(ax, d_indian_pts, [d_indian_core], d_indian_fit, (0.535, 0.872), d_ticks, d_minor, False)
strip(1228, 1369, 1585, 1417, 'Gambian')
strip(1596, 1369, 1955, 1417, 'Indian')

put(970, 848, 'cg04859490 vs Insulinogenic index residual', 18, color='#222222')
put(970, 1337, 'cg00363845 vs Insulinogenic index residual', 18, color='#222222')
for xc, yc in [(717, 1062), (1142, 1083), (717, 1551), (1142, 1572)]:
    put(xc, yc, 'Insulinogenic index residual', 18, rotation=90, color='#222222')
for xc, yc in [(948, 1290), (1593, 1290), (948, 1780), (1593, 1780)]:
    put(xc, yc, 'Methylation beta value', 18, color='#222222')

put(95, 60, 'A', 36)
put(22, 916, 'B', 36)
put(687, 819, 'C', 36)
put(691, 1297, 'D', 36)

fig.savefig('out.png', dpi=100)
